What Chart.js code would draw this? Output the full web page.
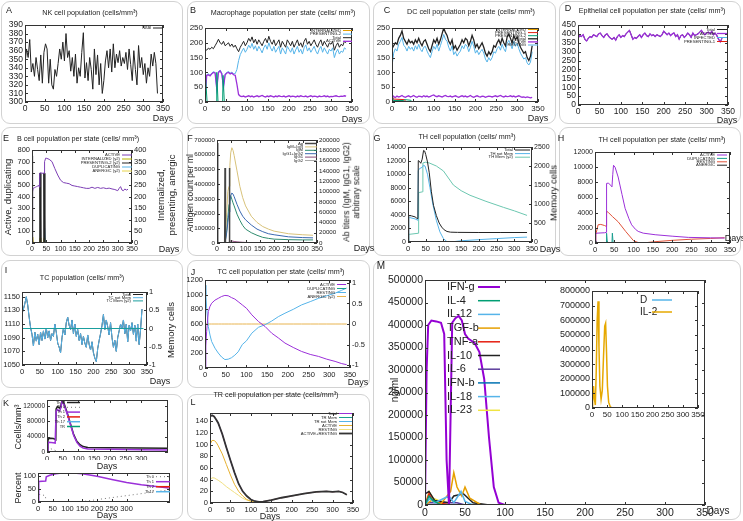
<!DOCTYPE html>
<html>
<head>
<meta charset="utf-8">
<script src="https://cdn.jsdelivr.net/npm/chart.js@4.4.1/dist/chart.umd.min.js"></script>
<style>
  body { margin: 0; background: #fff; font-family: 'Liberation Sans', Arial, sans-serif; }
  #fig { position: relative; width: 743px; height: 521px; overflow: hidden; }
  .box { position: absolute; border: 1px solid #d2d2d2; border-radius: 9px; box-sizing: border-box; }
  .t { position: absolute; white-space: nowrap; color: #222; z-index: 2; line-height: 1.15; }
  canvas { position: absolute; }
</style>
</head>
<body>
<div id="fig"></div>
<script>
// shared day grid for the noisy series
const dayGrid = [0,4,8,12,16,20,24,28,32,36,40,44,48,52,56,60,64,68,72,76,80,84,88,92,96,100,104,108,112,116,120,124,128,132,136,140,144,148,152,156,160,164,168,172,176,180,184,188,192,196,200,204,208,212,216,220,224,228,232,236,240,244,248,252,256,260,264,268,272,276,280,284,288,292,296,300,304,308,312,316,320,324,328,332,336]

// tick labels
const x350 = [0,50,100,150,200,250,300,350]
const x300 = [0,50,100,150,200,250,300]
const nkTicks = [300,310,320,330,340,350,360,370,380,390]
const macTicks = [0,50,100,150,200,250]
const epiTicks = [0,50,100,150,200,250,300,350,400,450]
const bLeftTicks = [0,100,200,300,400,500,600,700,800]
const bRightTicks = [0,50,100,150,200,250,300,350,400]
const agLeftTicks = [0,100000,200000,300000,400000,500000,600000,700000]
const agRightTicks = [0,20000,40000,60000,80000,100000,120000,140000,160000,180000,200000]
const thLeftTicks = [0,2000,4000,6000,8000,10000,12000,14000]
const thRightTicks = [0,500,1000,1500,2000,2500]
const thStateTicks = [0,2000,4000,6000,8000,10000,12000]
const tcTicks = [1050,1070,1090,1110,1130,1150]
const memTicks = [-1,-0.5,0,0.5,1]
const tcStateTicks = [0,200,400,600,800,1000,1200]
const kTopTicks = [0,40000,80000,120000]
const kBotTicks = [0,50,100]
const trTicks = [0,20,40,60,80,100,120,140]
const mTicks = [0,50000,100000,150000,200000,250000,300000,350000,400000,450000,500000]
const mInsetTicks = [0,100000,200000,300000,400000,500000,600000,700000,800000]

// A: NK cells
const nkTotal = [345,362,352,373,335,345,330,352,338,325,
  355,322,358,368,362,322,350,320,315,338,
  330,345,362,350,370,348,380,352,360,336,
  352,330,356,322,340,330,358,381,328,346,
  325,352,338,315,362,332,355,320,345,310,
  325,348,360,340,362,335,368,340,356,346,
  360,342,352,345,358,338,362,344,325,360,
  338,320,366,340,352,332,345,322,340,330,
  356,342,358,345,310]

// B: macrophages
const macTotal = [180,175,182,178,185,180,190,200,212,200,
  195,205,190,195,200,188,196,185,192,180,
  170,185,195,205,190,200,215,205,220,200,
  212,195,210,200,190,205,215,200,222,205,
  195,210,190,200,210,185,205,195,185,210,
  200,190,205,185,198,210,190,200,185,205,
  215,195,205,190,200,210,195,185,200,210,
  190,205,195,185,200,195,205,175,190,200,
  185,195,190,205,200]
const macPres2 = [5,92,95,90,98,102,100,48,103,108,
  98,52,95,100,103,98,101,95,96,110,
  140,160,172,182,168,178,192,182,198,178,
  190,172,188,178,166,183,193,178,200,183,
  172,188,168,178,188,162,183,173,162,188,
  178,168,183,162,176,188,168,178,162,183,
  193,172,183,168,178,188,172,162,178,188,
  168,183,172,162,178,172,183,150,168,178,
  162,172,168,183,178]
const macActive = [10,90,92,88,95,100,98,45,100,105,
  95,50,92,98,100,95,98,92,90,60,
  25,20,18,20,17,19,21,18,20,17,
  19,21,18,20,22,19,17,20,18,21,
  19,17,20,18,21,19,18,20,17,19,
  21,18,20,19,17,20,18,21,19,18,
  20,17,19,21,18,20,19,17,20,18,
  19,21,18,20,17,19,18,20,21,19,
  18,20,19,21,20]
const macSpikeDays = [0,5,27,28,31,42,43,46,336]
const macSpikeVals = [110,0,0,100,0,0,90,0,0]
const macInternDays = [0,3,6,336]
const macInternVals = [5,2,0,0]

// C: dendritic cells
const dcTotal = [180,190,200,195,215,225,240,215,205,195,
  210,200,205,195,210,200,215,200,190,205,
  210,195,180,170,190,210,200,215,195,210,
  230,250,235,225,205,195,210,180,190,175,
  185,195,210,200,215,210,190,205,225,210,
  185,195,180,190,200,185,165,155,170,160,
  170,190,185,200,210,195,215,200,190,220,
  230,215,200,225,210,220,200,185,175,165,
  170,150,140,155,190]
const dcResting = [120,165,180,172,195,205,218,192,185,172,
  188,178,185,172,190,178,195,178,170,185,
  188,172,160,150,170,188,178,195,172,190,
  208,228,212,205,185,172,190,160,170,155,
  165,172,190,180,195,188,170,185,205,188,
  165,175,160,170,178,165,145,135,150,140,
  150,170,165,180,188,175,195,180,170,198,
  208,195,180,205,188,198,180,165,155,145,
  150,132,125,135,170]
const dcActive = [25,18,15,20,17,19,22,18,16,19,
  21,17,19,22,18,16,20,19,17,21,
  18,20,17,19,22,24,20,18,21,19,
  17,20,22,19,18,20,17,19,21,18,
  16,19,21,18,20,17,19,22,18,16,
  19,21,18,17,20,19,16,18,20,19,
  17,19,21,18,20,22,19,17,20,18,
  19,21,18,20,17,19,21,18,16,17,
  15,17,16,14,16]
const dcPres1Days = [0,2,30,33,336]
const dcPres1Vals = [15,10,8,0,0]
const dcPres2Days = [0,3,28,30,45,48,336]
const dcPres2Vals = [25,5,5,8,6,0,0]
const dcInternDays = [0,3,336]
const dcInternVals = [4,0,0]

// D: epithelial cells
const epiActive = [375,390,385,395,370,360,375,385,380,395,
  390,385,400,405,390,380,395,400,385,375,
  370,380,365,385,395,380,390,385,400,410,
  420,395,370,380,375,385,395,380,395,405,
  390,385,400,390,395,385,395,390,385,395,
  415,405,395,405,390,400,405,385,395,370,
  390,395,380,390,405,395,380,405,390,395,
  400,410,420,405,395,405,410,400,415,395,
  405,390,370,355,375]
const epiZeroDays = [0,336]
const epiZeroVals = [0,0]

// E: B cells
const bActiveDays = [0,2,4,8,12,16,20,24,26,27,30,35,40,42,44,48,52,60,70,80,90,100,110,120,130,140,150,160,170,180,190,200,210,220,230,240,250,260,270,280,290,300,305,310,315,320,325,330,336]
const bActiveVals = [0,440,470,475,480,485,490,495,480,600,605,600,600,600,700,730,728,720,700,640,585,540,520,515,510,495,490,485,480,475,470,470,480,470,478,470,475,468,472,465,460,450,470,485,455,450,465,455,462]
const bPres2Days = [0,1,3,26,27,28,31,40,41,42,45,336]
const bPres2Vals = [375,375,0,0,300,300,0,0,300,300,0,0]
const bDupDays = [0,42,44,46,336]
const bDupVals = [0,0,130,0,0]
const bAnergicDays = [0,3,27,28,31,41,42,45,336]
const bAnergicVals = [25,0,0,22,0,0,22,0,0]
const bInternDays = [0,4,27,29,33,41,43,47,336]
const bInternVals = [30,0,0,18,0,0,15,0,0]

// F: antigen and antibodies
const agDays = [0,2,3,27,28,29,30,42,43,44,45,336]
const agVals = [680000,680000,0,0,510000,510000,0,0,510000,510000,0,0]
const igDays = [0,28,34,38,42,45,48,52,56,60,70,80,90,100,120,140,160,180,200,250,300,336]
const igTotalVals = [0,0,60000,100000,110000,150000,175000,185000,180000,170000,140000,110000,88000,72000,52000,40000,32000,27000,23000,18000,16000,15000]
const igG12Vals = [0,0,20000,40000,60000,80000,92000,97000,95000,90000,75000,62000,52000,45000,35000,27000,22000,18000,16000,12000,10500,10000]
const igMVals = [0,0,25000,50000,75000,90000,92000,85000,78000,72000,56000,44000,34000,27000,20000,15000,11000,9000,7500,6500,6000,6000]
const igG1Vals = [0,0,0,500,1500,3000,4000,4000,3500,3000,2200,1800,1400,1100,800,600,400,300,200,100,0,0]
const igG2Vals = [0,0,0,0,0,0,0,0,0,0,0,0,0,0,0,0,0,0,0,0,0,0]

// G: TH cells
const thTotalDays = [0,2,5,10,20,25,28,29,32,36,40,44,47,50,55,60,66,72,80,88,95,102,110,120,140,200,260,336]
const thTotalVals = [0,3800,3900,3850,3700,3500,3450,12000,11900,11600,12200,13500,13400,12900,11800,10200,7400,5400,3900,2800,2200,1800,1550,1450,1420,1400,1400,1400]
const thNotMemDays = [0,2,5,20,28,29,32,40,44,48,55,62,70,80,90,100,110,120,150,200,250,300,336]
const thNotMemVals = [0,3500,3600,3400,3200,10500,10800,11000,11300,11200,10000,8000,5600,3200,1500,500,50,0,180,350,500,650,720]
const thMemDays = [0,2,29,30,41,42,50,60,80,100,128,150,175,220,270,300,336]
const thMemVals = [0,200,230,1300,1320,2080,2100,2080,2000,1870,1500,1350,1230,1070,910,820,700]

// H: TH cells per state
const hActiveDays = [0,2,5,25,29,30,35,40,44,46,48,52,60,70,78,88,95,105,112,125,156,200,242,300,336]
const hActiveVals = [0,1200,1300,1350,1400,7860,7900,7640,7400,9000,10250,10000,8700,6400,4580,3200,2400,1800,1530,1300,1090,900,740,680,650]
const hRestingDays = [0,2,8,15,25,29,30,35,45,60,80,100,115,125,150,200,250,300,336]
const hRestingVals = [0,1100,2400,2450,2300,2200,4200,4000,3500,2800,1500,300,0,0,150,350,500,600,700]
const hDupDays = [0,2,4,29,30,32,44,45,47,336]
const hDupVals = [0,300,0,0,1300,0,0,1300,0,0]
const hAnergicDays = [0,2,5,29,30,33,336]
const hAnergicVals = [0,200,0,0,300,0,0]

// I: TC cells
const tcTotal = [1125,1132,1140,1150,1138,1120,1105,1095,1078,1098,
  1085,1095,1080,1098,1086,1100,1088,1104,1090,1100,
  1086,1096,1092,1110,1098,1082,1076,1068,1090,1104,
  1094,1112,1120,1108,1102,1116,1096,1110,1092,1102,
  1086,1096,1080,1092,1082,1076,1094,1080,1072,1084,
  1068,1060,1055,1074,1086,1096,1108,1124,1102,1116,
  1106,1094,1112,1090,1076,1086,1070,1090,1100,1110,
  1104,1116,1096,1110,1084,1108,1100,1112,1095,1108,
  1085,1110,1080,1102,1132]
const tcMemDays = [0,340]
const tcMemVals = [0,0]

// J: TC cells per state
const jDays = [0,2,4,8,12,16,24,32,40,48,56,64,72,80,90,100,113,129,145,161,177,193,213,233,254,274,294,314,330,342]
const jActive = [0,300,500,770,840,883,925,950,975,990,985,960,940,905,860,815,725,634,566,475,410,340,280,226,185,158,120,90,60,45]
const jResting = [1130,1000,815,566,450,362,271,204,150,115,120,140,175,220,320,370,475,555,590,640,700,747,800,860,905,950,985,1020,1060,1090]
const jZero = [0,0,0,0,0,0,0,0,0,0,0,0,0,0,0,0,0,0,0,0,0,0,0,0,0,0,0,0,0,0]

// K: TH subsets
const kTopDays = [0,3,6,20,26,28,29,33,40,44,48,52,56,65,75,85,95,105,115,130,200,300,385]
const kTopTotal = [0,30000,36000,35000,33000,32000,112000,118000,114000,120000,134000,130000,122000,100000,72000,45000,28000,19000,14000,12000,11000,10500,10000]
const kTopTh1 = [0,22000,25000,24000,23000,23000,105000,110000,106000,115000,131000,127000,118000,97000,70000,43000,25000,15000,10000,8000,7000,6000,5000]
const kTopTh0Days = [0,3,10,20,30,40,385]
const kTopTh0Vals = [0,12000,9000,6000,3000,0,0]
const kZeroDays = [0,445]
const kZeroVals = [0,0]
const kBotDays = [0,2,3,26,27,28,40,60,80,120,150,200,250,300,350,400,443]
const kBotTh1 = [0,0,80,82,82,98,104,110,113,113,110,100,88,76,67,60,55]
const kBotTh0Days = [0,3,25,27,140,443]
const kBotTh0Vals = [0,30,25,0,0,47]

// L: TR cells
const lDays = [0,5,10,15,20,30,40,50,60,70,80,90,100,110,120,130,150,175,200,230,260,285,300,315,325,335]
const lBoth = [148,150,148,143,137,118,95,73,52,33,20,12,6,3,2,2.5,5,9,12,16,19,20,19,20,18,14]
const lActive = [100,107,107,104,98,84,66,48,32,20,12,6,3,1,0,0,0,0,0,0,0,0,0,0,0,0]
const lResting = [40,43,43,41,39,34,28,23,18,13,8,5,3,2,2,2.5,5,9,12,16,19,20,19,20,18,14]
const lZeroDays = [0,335]
const lZeroVals = [0,0]

// M: cytokines
const ifngDays = [0,2,4,8,14,20,24,27,30,32,34,38,42,46,50,54,58,62,68,74,80,86,92,100,350]
const ifngVals = [0,300000,400000,410000,408000,405000,380000,100000,0,200000,405000,415000,420000,410000,380000,370000,365000,360000,340000,280000,150000,40000,5000,0,0]
const il4Days = [0,5,10,20,350]
const il4Vals = [0,20000,10000,0,0]
const il12Days = [0,6,12,30,36,45,50,60,350]
const il12Vals = [0,15000,5000,20000,5000,30000,8000,0,0]
const tgfbDays = [0,8,20,32,36,40,46,50,56,70,350]
const tgfbVals = [0,10000,3000,30000,72000,40000,20000,40000,15000,0,0]
const tnfaDays = [0,5,10,30,350]
const tnfaVals = [0,25000,8000,0,0]
const il10Days = [0,5,12,30,36,48,60,80,350]
const il10Vals = [25000,30000,10000,5000,20000,25000,5000,0,0]
const il6Days = [0,4,40,50,350]
const il6Vals = [0,5000,5000,0,0]
const il23Days = [0,5,10,30,350]
const il23Vals = [0,30000,15000,0,0]
const mZeroDays = [0,350]
const mZeroVals = [0,0]
const il2Days = [0,2,5,8,11,14,17,20,23,26,30,34,38,42,45,48,51,55,60,66,350]
const il2Vals = [0,40000,150000,60000,20000,250000,600000,730000,420000,150000,60000,120000,350000,560000,580000,380000,150000,40000,10000,0,0]

const col = {
  purple: '#9400d3', green: '#009e73', blue: '#56b4e9', orange: '#e69f00',
  yellow: '#f0e442', dblue: '#0072b2', red: '#e51e10', black: '#222222'
}

const fig = document.getElementById('fig')
Chart.defaults.font.family = "'Liberation Sans', Arial, sans-serif"
Chart.defaults.color = '#222'

const xy = (d, v) => v.map((y, i) => ({ x: d[i], y: y }))

function ln(label, d, v, color, extra) {
  return Object.assign({
    label: label, data: xy(d, v), borderColor: color, backgroundColor: color,
    borderWidth: 1, pointRadius: 0, fill: false, tension: 0, yAxisID: 'y'
  }, extra || {})
}

// gnuplot-like frame, inward tick marks and key
const gp = {
  id: 'gp',
  afterDatasetsDraw(chart, args, o) {
    const ctx = chart.ctx
    const a = chart.chartArea
    ctx.save()
    ctx.strokeStyle = '#333'
    ctx.lineWidth = 1
    ctx.strokeRect(a.left + 0.5, a.top + 0.5, a.right - a.left - 1, a.bottom - a.top - 1)
    const seg = (x1, y1, x2, y2) => { ctx.beginPath(); ctx.moveTo(x1, y1); ctx.lineTo(x2, y2); ctx.stroke() }
    const tl = 3
    chart.scales.x.ticks.forEach(t => {
      const p = Math.round(chart.scales.x.getPixelForValue(t.value)) + 0.5
      seg(p, a.bottom, p, a.bottom - tl)
      seg(p, a.top, p, a.top + tl)
    })
    const hasY2 = !!chart.scales.y2
    chart.scales.y.ticks.forEach(t => {
      const p = Math.round(chart.scales.y.getPixelForValue(t.value)) + 0.5
      seg(a.left, p, a.left + tl, p)
      if (!hasY2) seg(a.right, p, a.right - tl, p)
    })
    if (hasY2) {
      chart.scales.y2.ticks.forEach(t => {
        const p = Math.round(chart.scales.y2.getPixelForValue(t.value)) + 0.5
        seg(a.right, p, a.right - tl, p)
      })
    }
    const k = o.key
    if (k) {
      ctx.font = k.size + "px 'Liberation Sans', Arial, sans-serif"
      ctx.textBaseline = 'middle'
      let i = 0
      chart.data.datasets.forEach(ds => {
        if (!ds.label || ds.key === false) return
        const y = k.y - o.oy + i * k.dy
        i++
        ctx.fillStyle = '#222'
        ctx.textAlign = k.ta || 'right'
        ctx.fillText(ds.label, k.tx - o.ox, y)
        ctx.strokeStyle = ds.borderColor
        ctx.lineWidth = ds.borderWidth || 1
        ctx.setLineDash(ds.borderDash || [])
        seg(k.lx - o.ox, y, k.lx + k.len - o.ox, y)
        ctx.setLineDash([])
      })
    }
    ctx.restore()
  }
}

function axis(o, size) {
  const s = {
    type: 'linear', min: o.min, max: o.max,
    grid: { display: false, drawTicks: false }, border: { display: false },
    ticks: { font: { size: o.size || size }, padding: 2, color: '#222', autoSkip: false, maxRotation: 0, callback: v => String(v) }
  }
  if (o.tv) s.afterBuildTicks = sc => { sc.ticks = o.tv.map(v => ({ value: v })) }
  return s
}

function plotChart(box, plot, datasets, sc, key, size) {
  const [bx, by, bw, bh] = box
  const c = document.createElement('canvas')
  c.width = bw
  c.height = bh
  c.style.left = bx + 'px'
  c.style.top = by + 'px'
  c.style.width = bw + 'px'
  c.style.height = bh + 'px'
  fig.appendChild(c)
  const L = plot[0] - bx, T = plot[1] - by, R = bx + bw - plot[2], B = by + bh - plot[3]
  const fs = size || 9
  const scales = {
    x: Object.assign(axis(sc.x, fs), { position: 'bottom', afterFit: s => { s.height = B; s.paddingLeft = 0; s.paddingRight = 0 } }),
    y: Object.assign(axis(sc.y, fs), { position: 'left', afterFit: s => { s.width = L; s.paddingTop = 0; s.paddingBottom = 0 } })
  }
  if (sc.y2) {
    scales.y2 = Object.assign(axis(sc.y2, fs), { position: 'right', afterFit: s => { s.width = R; s.paddingTop = 0; s.paddingBottom = 0 } })
  }
  return new Chart(c, {
    type: 'line',
    data: { datasets: datasets },
    options: {
      responsive: false, animation: false, events: [],
      layout: { padding: { left: 0, top: T, right: sc.y2 ? 0 : R, bottom: 0 } },
      scales: scales,
      plugins: { legend: { display: false }, tooltip: { enabled: false }, gp: { key: key, ox: bx, oy: by } }
    },
    plugins: [gp]
  })
}

function box(x, y, w, h) {
  const d = document.createElement('div')
  d.className = 'box'
  Object.assign(d.style, { left: x + 'px', top: y + 'px', width: w + 'px', height: h + 'px' })
  fig.appendChild(d)
}

function txt(s, x, y, size, rot, anchor) {
  const d = document.createElement('div')
  d.className = 't'
  d.innerHTML = s
  d.style.left = x + 'px'
  d.style.top = y + 'px'
  d.style.fontSize = size + 'px'
  const ax = anchor === 'l' ? '0' : anchor === 'r' ? '-100%' : '-50%'
  d.style.transform = 'translate(' + ax + ',-50%)' + (rot ? ' rotate(' + rot + 'deg)' : '')
  if (rot) d.style.textAlign = 'center'
  fig.appendChild(d)
}

// panel frames
box(1, 1, 182, 123); box(187, 1, 183, 123); box(373, 1, 183, 123); box(559, 1, 182, 123)
box(1, 127, 182, 129); box(187, 127, 183, 129); box(373, 127, 183, 129); box(559, 127, 182, 129)
box(1, 260, 182, 128); box(187, 260, 183, 128); box(373, 260, 368, 260)
box(1, 394, 182, 126); box(187, 394, 183, 126)

// A
plotChart([1, 1, 182, 123], [25, 25, 163, 102],
  [ln('Total', dayGrid, nkTotal, col.black)],
  { x: { min: 0, max: 350, tv: x350 }, y: { min: 300, max: 390, tv: nkTicks } },
  { tx: 151, lx: 153, len: 10, y: 28, dy: 4, size: 4.5 }, 8.5)

// B
plotChart([187, 1, 183, 123], [205, 28, 352, 102], [
  ln('INTERNALIZED', macInternDays, macInternVals, col.orange, { order: 4 }),
  ln('PRESENTING-2', dayGrid, macPres2, col.blue, { order: 3 }),
  ln('Total', dayGrid, macTotal, col.black, { order: 2 }),
  ln('ACTIVE', dayGrid, macActive, '#9b30d9', { order: 1, borderWidth: 1.3 }),
  ln('RESTING', macSpikeDays, macSpikeVals, col.green, { order: 0, key: false })
], { x: { min: 0, max: 350, tv: x350 }, y: { min: 0, max: 250, tv: macTicks } },
  { tx: 341, lx: 343, len: 9, y: 30.5, dy: 3.6, size: 4.2 }, 8)

// C
plotChart([373, 1, 183, 123], [392, 28, 538, 102], [
  ln('INTERNALIZED', dcInternDays, dcInternVals, col.orange, { order: 5 }),
  ln('PRESENTING-1', dcPres1Days, dcPres1Vals, col.red, { order: 4 }),
  ln('PRESENTING-2', dcPres2Days, dcPres2Vals, col.green, { order: 3 }),
  ln('Total', dayGrid, dcTotal, col.black, { order: 1, borderWidth: 1.3 }),
  ln('ACTIVE', dayGrid, dcActive, '#9b30d9', { order: 0, borderWidth: 1.3 }),
  ln('RESTING', dayGrid, dcResting, col.blue, { order: 2 })
], { x: { min: 0, max: 350, tv: x350 }, y: { min: 0, max: 250, tv: macTicks } },
  { tx: 526, lx: 528, len: 10, y: 29.5, dy: 3.1, size: 4.2 }, 8)

// D
plotChart([559, 1, 182, 123], [578, 25, 728, 105], [
  ln('Total', dayGrid, epiActive, col.black, { order: 3 }),
  ln('ACTIVE', dayGrid, epiActive, '#9b30d9', { order: 0, borderWidth: 1.3 }),
  ln('INFECTED', epiZeroDays, epiZeroVals, col.blue, { order: 2 }),
  ln('PRESENTING-1', epiZeroDays, epiZeroVals, col.red, { order: 1 })
], { x: { min: 0, max: 350, tv: x350 }, y: { min: 0, max: 450, tv: epiTicks } },
  { tx: 715, lx: 717, len: 10, y: 29.5, dy: 4, size: 4.2 }, 8.5)

// E
plotChart([1, 127, 182, 129], [32, 150, 132, 243], [
  ln('ACTIVE', bActiveDays, bActiveVals, '#7d3fb5', { order: 0 }),
  ln('INTERNALIZED (y2)', bInternDays, bInternVals, '#b5b000', { yAxisID: 'y2', order: 3 }),
  ln('PRESENTING-2 (y2)', bPres2Days, bPres2Vals, '#222', { yAxisID: 'y2', order: 1 }),
  ln('DUPLICATING', bDupDays, bDupVals, col.blue, { order: 2 }),
  ln('ANERGIC (y2)', bAnergicDays, bAnergicVals, '#e8d44a', { yAxisID: 'y2', order: 4 })
], { x: { min: 0, max: 350, tv: x350, size: 7 }, y: { min: 0, max: 800, tv: bLeftTicks }, y2: { min: 0, max: 400, tv: bRightTicks } },
  { tx: 120, lx: 122, len: 10, y: 155, dy: 4, size: 4.2 }, 7.5)

// F
plotChart([187, 127, 183, 129], [217, 140, 317, 243], [
  ln('Ag', agDays, agVals, '#444', { order: 0, borderWidth: 1.5 }),
  ln('IgM+IgG', igDays, igTotalVals, '#d8c27a', { yAxisID: 'y2', order: 1 }),
  ln('IgM', igDays, igMVals, '#2e8b6e', { yAxisID: 'y2', order: 3 }),
  ln('IgG1+IgG2', igDays, igG12Vals, '#3a68b0', { yAxisID: 'y2', order: 2 }),
  ln('IgG1', igDays, igG1Vals, '#8a4a7a', { yAxisID: 'y2', order: 4 }),
  ln('IgG2', igDays, igG2Vals, '#aaaaaa', { yAxisID: 'y2', order: 5 })
], { x: { min: 0, max: 350, tv: x350, size: 7 }, y: { min: 0, max: 700000, tv: agLeftTicks }, y2: { min: 0, max: 200000, tv: agRightTicks } },
  { tx: 303, lx: 305, len: 12, y: 143.5, dy: 3.4, size: 4.2 }, 6.2)

// G
plotChart([373, 127, 183, 129], [408, 147, 532, 242], [
  ln('Total', thTotalDays, thTotalVals, col.black, { order: 0 }),
  ln('TH not Mem', thNotMemDays, thNotMemVals, col.blue, { order: 1 }),
  ln('TH Mem (y2)', thMemDays, thMemVals, '#6cc7b0', { yAxisID: 'y2', order: 2 })
], { x: { min: 0, max: 350, tv: x350, size: 7.5 }, y: { min: 0, max: 14000, tv: thLeftTicks }, y2: { min: 0, max: 2500, tv: thRightTicks } },
  { tx: 513, lx: 515, len: 15, y: 150, dy: 3.6, size: 4.2 }, 7)

// H
plotChart([559, 127, 182, 129], [595, 152, 730, 243], [
  ln('ACTIVE', hActiveDays, hActiveVals, '#9b30d9', { order: 0 }),
  ln('DUPLICATING', hDupDays, hDupVals, '#1a9e8f', { order: 2 }),
  ln('RESTING', hRestingDays, hRestingVals, '#e0533a', { order: 1 }),
  ln('ANERGIC', hAnergicDays, hAnergicVals, col.black, { order: 3 })
], { x: { min: 0, max: 350, tv: x350, size: 7.5 }, y: { min: 0, max: 12000, tv: thStateTicks } },
  { tx: 715, lx: 717, len: 10, y: 155, dy: 3.4, size: 4.2 }, 7)

// I
plotChart([1, 260, 182, 128], [22, 292, 147, 365], [
  ln('Total', dayGrid, tcTotal, col.black, { order: 2 }),
  ln('TC not Mem', dayGrid, tcTotal, col.blue, { order: 1 }),
  ln('TC Mem (y2)', tcMemDays, tcMemVals, '#1a9e9e', { yAxisID: 'y2', order: 0 })
], { x: { min: 0, max: 350, tv: x350 }, y: { min: 1050, max: 1157, tv: tcTicks }, y2: { min: -1, max: 1, tv: memTicks } },
  { tx: 131, lx: 133, len: 10, y: 294.5, dy: 3.2, size: 4.2 }, 7.5)

// J
plotChart([187, 260, 183, 128], [205, 280, 350, 368], [
  ln('ACTIVE', jDays, jActive, '#9b30d9', { order: 0 }),
  ln('DUPLICATING', jDays, jZero, '#1a9e8f', { order: 2 }),
  ln('RESTING', jDays, jResting, col.blue, { order: 1 }),
  ln('ANERGIC (y2)', jDays, jZero, '#e8b450', { yAxisID: 'y2', order: 3 })
], { x: { min: 0, max: 350, tv: x350 }, y: { min: 0, max: 1200, tv: tcStateTicks }, y2: { min: -1.07, max: 1.07, tv: memTicks } },
  { tx: 335, lx: 337, len: 9, y: 284.5, dy: 4, size: 4.2 }, 7.5)

// K top and bottom
plotChart([1, 394, 182, 66], [47, 400, 168, 452], [
  ln('Th M', kTopDays, kTopTotal, col.black, { order: 1, borderWidth: 1.5 }),
  ln('Th 0', kTopTh0Days, kTopTh0Vals, '#777', { order: 2, borderDash: [1, 3] }),
  ln('Th 1', kTopDays, kTopTh1, '#9b30d9', { order: 0, borderWidth: 1.5 }),
  ln('Th 2', kZeroDays, kZeroVals, col.red, { order: 5, borderWidth: 1.5 }),
  ln('Th 17', kZeroDays, kZeroVals, col.blue, { order: 4, borderWidth: 1.5 }),
  ln('TR', kZeroDays, kZeroVals, col.green, { order: 3, borderWidth: 1.5 })
], { x: { min: 0, max: 385, tv: x300, size: 7.5 }, y: { min: 0, max: 135000, tv: kTopTicks } },
  { tx: 65, lx: 67, len: 13, y: 402.5, dy: 4.8, size: 4 }, 6.5)

plotChart([1, 462, 182, 58], [38, 473, 170, 502], [
  ln('Th 0', kBotTh0Days, kBotTh0Vals, '#777', { order: 2, borderDash: [1, 3] }),
  ln('Th 1', kBotDays, kBotTh1, '#9b30d9', { order: 0, borderWidth: 1.5 }),
  ln('Th 2', kZeroDays, kZeroVals, col.red, { order: 3, borderWidth: 1.5 }),
  ln('Th17', kZeroDays, kZeroVals, col.blue, { order: 1, borderWidth: 1.5 })
], { x: { min: 0, max: 447, tv: x300, size: 7.5 }, y: { min: 0, max: 113, tv: kBotTicks } },
  { tx: 154, lx: 156, len: 14, y: 476.7, dy: 5, size: 4 }, 7.5)

// L
plotChart([187, 394, 183, 126], [210, 413, 353, 503], [
  ln('Total', lDays, lBoth, '#9b30d9', { order: 5 }),
  ln('TR Mem', lZeroDays, lZeroVals, '#1a9e8f', { order: 4 }),
  ln('TR not Mem', lZeroDays, lZeroVals, col.blue, { order: 3 }),
  ln('ACTIVE', lDays, lActive, '#e6b030', { order: 1 }),
  ln('RESTING', lDays, lResting, '#f0df80', { order: 2 }),
  ln('ACTIVE+RESTING', lDays, lBoth, '#333', { order: 0, borderWidth: 1.8 })
], { x: { min: 0, max: 350, tv: x350 }, y: { min: 0, max: 154, tv: trTicks } },
  { tx: 337, lx: 339, len: 13, y: 413.5, dy: 4, size: 4.2 }, 7.5)

// M main and inset
plotChart([373, 260, 368, 260], [425, 280, 705, 505], [
  ln('IFN-g', ifngDays, ifngVals, col.purple, { order: 0, borderWidth: 2 }),
  ln('IL-4', il4Days, il4Vals, col.green, { order: 1, borderWidth: 1.5 }),
  ln('IL-12', il12Days, il12Vals, col.blue, { order: 2, borderWidth: 1.5 }),
  ln('TGF-b', tgfbDays, tgfbVals, col.orange, { order: 3, borderWidth: 1.5 }),
  ln('TNF-a', tnfaDays, tnfaVals, col.red, { order: 4, borderWidth: 1.5 }),
  ln('IL-10', il10Days, il10Vals, col.black, { order: 5, borderWidth: 1.5 }),
  ln('IL-6', il6Days, il6Vals, '#5b3c9b', { order: 6, borderWidth: 1.5 }),
  ln('IFN-b', mZeroDays, mZeroVals, col.dblue, { order: 7, borderWidth: 1.5 }),
  ln('IL-18', mZeroDays, mZeroVals, col.blue, { order: 8, borderWidth: 1.5 }),
  ln('IL-23', il23Days, il23Vals, col.yellow, { order: 9, borderWidth: 1.5 })
], { x: { min: 0, max: 350, tv: x350 }, y: { min: 0, max: 500000, tv: mTicks } },
  { tx: 447, ta: 'left', lx: 478, len: 22, y: 287, dy: 13.7, size: 11 }, 10.5)

plotChart([555, 283, 150, 140], [592, 291, 698, 408], [
  ln('D', mZeroDays, mZeroVals, col.blue, { order: 1, borderWidth: 1.5 }),
  ln('IL-2', il2Days, il2Vals, '#e6a800', { order: 0, borderWidth: 1.5 })
], { x: { min: 0, max: 350, tv: x350, size: 8 }, y: { min: 0, max: 800000, tv: mInsetTicks } },
  { tx: 640, ta: 'left', lx: 652, len: 20, y: 300, dy: 12, size: 10 }, 9)

// panel letters
txt('A', 9, 10, 9); txt('B', 193, 10, 9); txt('C', 387, 10, 9); txt('D', 568, 8, 9)
txt('E', 6, 138, 9); txt('F', 190, 138, 9); txt('G', 377, 138, 9); txt('H', 561, 138, 9)
txt('I', 6, 270, 9); txt('J', 193, 272, 9); txt('K', 6, 403, 9); txt('L', 193, 402, 9); txt('M', 381, 266, 10)

// titles
txt('NK cell population (cells/mm³)', 90, 13, 7.2)
txt('Macrophage population per state (cells/ mm³)', 283, 13, 7.2)
txt('DC cell population per state (cells/ mm³)', 471, 12, 7.2)
txt('Epithelial cell population per state (cells/ mm³)', 652, 11, 7.2)
txt('B cell population per state (cells/ mm³)', 78, 139, 7.2)
txt('TH cell population (cells/ mm³)', 467, 137, 7.2)
txt('TH cell population per state (cells/ mm³)', 662, 140, 7.2)
txt('TC population (cells/ mm³)', 82, 278, 7.2)
txt('TC cell population per state (cells/ mm³)', 281, 272, 7.2)
txt('TR cell population per state (cells/mm³)', 276, 395, 7.2)

// axis titles
txt('Days', 163, 118, 9); txt('Days', 352, 119, 9); txt('Days', 538, 118, 9); txt('Days', 727, 120, 9)
txt('Days', 169, 249, 9); txt('Days', 364, 248, 9); txt('Days', 550, 249, 9); txt('Days', 735, 238, 9)
txt('Days', 160, 381, 9); txt('Days', 358, 382, 9); txt('Days', 107, 466, 9); txt('Days', 107, 515, 9)
txt('Days', 270, 516, 9); txt('Days', 718, 511, 10)
txt('Active, duplicating', 8, 197, 9.5, -90)
txt('Internalized,<br>presenting, anergic', 167, 195, 9.5, -90)
txt('Antigen count per ml', 191, 193, 8.5, -90)
txt('Ab titers (IgM, IgG1, IgG2)<br>arbitrary scale', 352, 192, 8.5, -90)
txt('Memory cells', 554, 193, 9.5, -90)
txt('Memory cells', 171, 330, 9.5, -90)
txt('Ccells/mm³', 18, 427, 9, -90)
txt('Percent', 18, 488, 9, -90)
txt('ng/ml', 395, 390, 10, -90)
</script>
</body>
</html>
